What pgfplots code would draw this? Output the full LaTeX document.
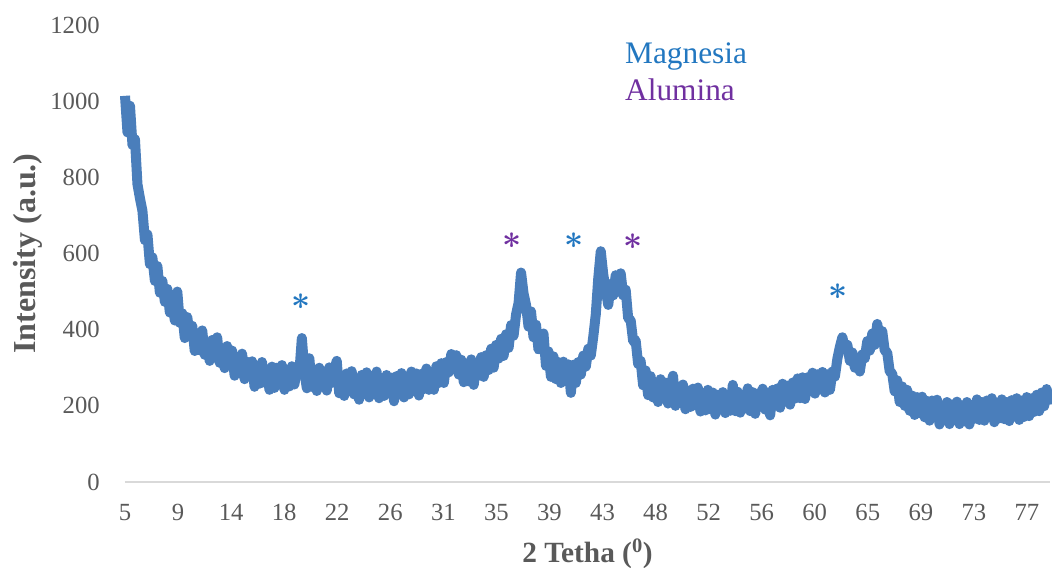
\documentclass[border=0pt]{standalone}
\usepackage{pgfplots}
\pgfplotsset{compat=1.18}
\usepackage{fontspec}
\setmainfont{Liberation Serif}
\definecolor{xrdblue}{HTML}{4A7EBB}
\definecolor{txtgray}{HTML}{595959}
\definecolor{mgblue}{HTML}{2277C0}
\definecolor{alpurple}{HTML}{7030A0}
\definecolor{axgray}{HTML}{D9D9D9}
\newcommand{\tickfont}{\fontsize{18.5}{20}\selectfont}
\newcommand{\phasefont}{\fontsize{23.5}{28}\selectfont}
\newcommand{\starmark}{{\fontsize{23}{26}\selectfont\boldmath$\ast$}}
\begin{document}
\begin{tikzpicture}
\begin{axis}[
  name=ax,
  scale only axis,
  width=693.75pt, height=342.75pt,
  xmin=5, xmax=79.27, ymin=0, ymax=1200,
  clip=false,
  axis lines*=left,
  y axis line style={draw=none},
  x axis line style={draw=axgray, line width=1.2pt},
  major tick length=0pt,
  xtick={5,9.26,13.52,17.78,22.04,26.3,30.56,34.82,39.08,43.34,47.6,51.86,56.12,60.38,64.64,68.9,73.16,77.42},
  xticklabels={5,9,14,18,22,26,31,35,39,43,48,52,56,60,65,69,73,77},
  ytick={0,200,400,600,800,1000,1200},
  yticklabels={0,200,400,600,800,1000,1200},
  tick label style={font=\tickfont, text=txtgray},
  xticklabel style={anchor=base, inner sep=0pt, yshift=-29.25pt},
  yticklabel style={anchor=east, inner sep=0pt, xshift=-18.75pt},
]
% diffraction pattern
\addplot[color=xrdblue, line width=7.5pt, line join=round, no markers] coordinates {
(5.0,1014)(5.2,918)(5.4,988)(5.6,885)(5.8,900)(6.0,782)(6.2,745)(6.4,712)(6.6,635)(6.8,650)(7.0,572)(7.2,590)(7.4,528)
(7.6,567)(7.8,497)(8.0,528)(8.2,473)(8.4,507)(8.6,445)(8.8,476)(9.0,424)(9.2,500)(9.4,418)(9.6,443)(9.8,378)
(10.0,433)(10.2,384)(10.4,410)(10.6,344)(10.8,390)(11.0,346)(11.2,398)(11.4,334)(11.6,365)(11.8,318)
(12.0,373)(12.2,331)(12.4,380)(12.6,313)(12.8,345)(13.0,299)(13.2,357)(13.4,306)(13.6,345)(13.8,279)
(14.0,327)(14.2,286)(14.4,337)(14.6,270)(14.8,316)(15.0,280)(15.2,317)(15.4,250)(15.6,302)(15.8,258)
(16.0,315)(16.2,261)(16.4,293)(16.6,242)(16.8,303)(17.0,247)(17.2,300)(17.4,265)(17.6,307)(17.8,242)
(18.0,292)(18.2,251)(18.4,304)(18.6,256)(18.8,296)(19.0,287)(19.2,378)(19.4,292)(19.6,246)(19.8,325)
(20.0,250)(20.2,295)(20.4,239)(20.6,300)(20.8,254)(21.0,286)(21.2,240)(21.4,301)(21.6,260)(21.8,292)
(22.0,318)(22.2,233)(22.4,277)(22.6,226)(22.8,285)(23.0,241)(23.2,291)(23.4,230)(23.6,263)(23.8,216)
(24.0,281)(24.2,238)(24.4,288)(24.6,222)(24.8,270)(25.0,230)(25.2,290)(25.4,220)(25.6,262)(25.8,226)
(26.0,281)(26.2,238)(26.4,274)(26.6,212)(26.8,278)(27.0,230)(27.2,286)(27.4,222)(27.6,269)(27.8,230)
(28.0,290)(28.2,248)(28.4,285)(28.6,227)(28.8,284)(29.0,244)(29.2,298)(29.4,242)(29.6,285)(29.8,242)
(30.0,304)(30.2,260)(30.4,312)(30.6,260)(30.8,315)(31.0,288)(31.2,336)(31.4,300)(31.6,333)(31.8,282)
(32.0,321)(32.2,262)(32.4,305)(32.6,264)(32.8,322)(33.0,255)(33.2,312)(33.4,279)(33.6,328)(33.8,276)
(34.0,333)(34.2,294)(34.4,350)(34.6,300)(34.8,360)(35.0,324)(35.2,376)(35.4,331)(35.6,388)(35.8,352)
(36.0,412)(36.2,384)(36.4,440)(36.6,470)(36.8,550)(37.0,495)(37.2,465)(37.4,408)(37.6,448)(37.8,380)
(38.0,413)(38.2,348)(38.4,350)(38.6,390)(38.8,305)(39.0,343)(39.2,276)(39.4,330)(39.6,270)(39.8,315)
(40.0,260)(40.2,316)(40.4,265)(40.6,309)(40.8,234)(41.0,308)(41.2,260)(41.4,315)(41.6,282)(41.8,332)
(42.0,303)(42.2,350)(42.4,332)(42.6,382)(42.8,440)(43.0,535)(43.2,606)(43.4,545)(43.6,505)(43.8,465)
(44.0,520)(44.2,490)(44.4,543)(44.6,500)(44.8,548)(45.0,490)(45.2,505)(45.4,430)(45.6,425)(45.8,370)
(46.0,372)(46.2,310)(46.4,318)(46.6,254)(46.8,293)(47.0,228)(47.2,278)(47.4,222)(47.6,262)(47.8,210)
(48.0,270)(48.2,220)(48.4,261)(48.6,206)(48.8,247)(49.0,279)(49.2,200)(49.4,251)(49.6,207)(49.8,256)
(50.0,191)(50.2,240)(50.4,197)(50.6,245)(50.8,201)(51.0,248)(51.2,185)(51.4,226)(51.6,188)(51.8,242)
(52.0,191)(52.2,235)(52.4,177)(52.6,229)(52.8,196)(53.0,236)(53.2,181)(53.4,227)(53.6,187)(53.8,255)
(54.0,186)(54.2,237)(54.4,182)(54.6,228)(54.8,193)(55.0,246)(55.2,186)(55.4,236)(55.6,179)(55.8,232)
(56.0,200)(56.2,245)(56.4,190)(56.6,235)(56.8,175)(57.0,242)(57.2,200)(57.4,246)(57.6,195)(57.8,258)
(58.0,213)(58.2,253)(58.4,203)(58.6,261)(58.8,219)(59.0,272)(59.2,220)(59.4,275)(59.6,218)(59.8,275)
(60.0,238)(60.2,287)(60.4,232)(60.6,283)(60.8,243)(61.0,289)(61.2,235)(61.4,283)(61.6,242)(61.8,290)
(62.0,277)(62.2,324)(62.4,355)(62.6,380)(62.8,350)(63.0,360)(63.2,318)(63.4,340)(63.6,300)(63.8,325)
(64.0,290)(64.2,335)(64.4,325)(64.6,370)(64.8,345)(65.0,390)(65.2,360)(65.4,415)(65.6,375)(65.8,396)
(66.0,345)(66.2,340)(66.4,290)(66.6,285)(66.8,238)(67.0,267)(67.2,210)(67.4,251)(67.6,200)(67.8,242)
(68.0,187)(68.2,227)(68.4,176)(68.6,223)(68.8,181)(69.0,224)(69.2,170)(69.4,213)(69.6,161)(69.8,214)
(70.0,174)(70.2,216)(70.4,151)(70.6,201)(70.8,163)(71.0,210)(71.2,152)(71.4,204)(71.6,166)(71.8,211)
(72.0,152)(72.2,201)(72.4,159)(72.6,210)(72.8,151)(73.0,202)(73.2,166)(73.4,217)(73.6,163)(73.8,210)
(74.0,161)(74.2,214)(74.4,171)(74.6,220)(74.8,157)(75.0,205)(75.2,167)(75.4,217)(75.6,165)(75.8,210)
(76.0,160)(76.2,215)(76.4,175)(76.6,220)(76.8,163)(77.0,214)(77.2,171)(77.4,223)(77.6,173)(77.8,220)
(78.0,184)(78.2,229)(78.4,186)(78.6,235)(78.8,199)(79.0,244)(79.2,203)
};
% phase legend
\node[anchor=base west, inner sep=0pt, text=mgblue] at (axis cs:45.14,1100) {\phasefont Magnesia};
\node[anchor=base west, inner sep=0pt, text=alpurple] at (axis cs:45.14,1003) {\phasefont Alumina};
% reflection markers
\node[inner sep=0pt, text=mgblue] at (axis cs:19.13,473) {\starmark};
\node[inner sep=0pt, text=alpurple] at (axis cs:36.07,635) {\starmark};
\node[inner sep=0pt, text=mgblue] at (axis cs:41.05,635) {\starmark};
\node[inner sep=0pt, text=alpurple] at (axis cs:45.79,630) {\starmark};
\node[inner sep=0pt, text=mgblue] at (axis cs:62.25,499) {\starmark};
\end{axis}
% axis titles
\node[anchor=base, inner sep=0pt, text=txtgray]
  at ([yshift=-60.75pt]ax.south) {\bfseries\fontsize{22}{26}\selectfont 2 Tetha (\textsuperscript{0})};
\node[rotate=90, anchor=base, inner sep=0pt, text=txtgray]
  at ([xshift=-66.75pt]ax.west) {\bfseries\fontsize{24}{28}\selectfont Intensity (a.u.)};
\pgfresetboundingbox
\path[use as bounding box] ([xshift=-93.75pt,yshift=-64.5pt]ax.south west) rectangle ([xshift=1.5pt,yshift=18.75pt]ax.north east);
\end{tikzpicture}
\end{document}
